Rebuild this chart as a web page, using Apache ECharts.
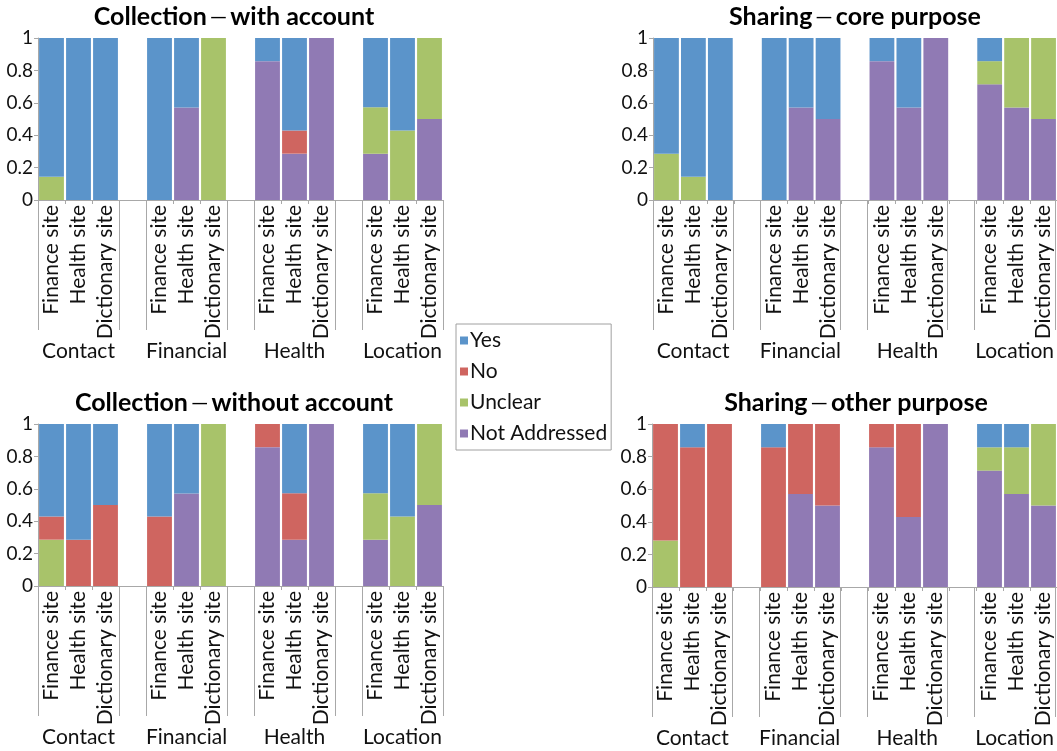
<!DOCTYPE html>
<html><head><meta charset="utf-8">
<script src="https://cdn.jsdelivr.net/npm/echarts@6/dist/echarts.min.js"></script>
<style>html,body{margin:0;padding:0;background:#fff}#c{width:1057px;height:751px}</style>
</head><body><div id="c"></div>
<script>
// ---- categories / labels ----
const groups = ['Contact', 'Financial', 'Health', 'Location'];
const sites = ['Finance site', 'Health site', 'Dictionary site'];
const seriesNames = ['Yes', 'No', 'Unclear', 'Not Addressed'];
const titleMain = ['Collection', 'Sharing', 'Collection', 'Sharing'];
const titleSub = ['with account', 'core purpose', 'without account', 'other purpose'];

// ---- values (order: Contact F,H,D | Financial F,H,D | Health F,H,D | Location F,H,D) ----
// Collection — with account
const cwaYes   = [0.857, 1, 1,   1, 0.429, 0,   0.143, 0.571, 0,   0.429, 0.571, 0];
const cwaNo    = [0, 0, 0,       0, 0, 0,       0, 0.143, 0,       0, 0, 0];
const cwaUncl  = [0.143, 0, 0,   0, 0, 1,       0, 0, 0,           0.286, 0.429, 0.5];
const cwaNA    = [0, 0, 0,       0, 0.571, 0,   0.857, 0.286, 1,   0.286, 0, 0.5];
// Sharing — core purpose
const scpYes   = [0.714, 0.857, 1,  1, 0.429, 0.5,  0.143, 0.429, 0,  0.143, 0, 0];
const scpNo    = [0, 0, 0,          0, 0, 0,        0, 0, 0,          0, 0, 0];
const scpUncl  = [0.286, 0.143, 0,  0, 0, 0,        0, 0, 0,          0.143, 0.429, 0.5];
const scpNA    = [0, 0, 0,          0, 0.571, 0.5,  0.857, 0.571, 1,  0.714, 0.571, 0.5];
// Collection — without account
const cwoYes   = [0.571, 0.714, 0.5,  0.571, 0.429, 0,  0, 0.429, 0,      0.429, 0.571, 0];
const cwoNo    = [0.143, 0.286, 0.5,  0.429, 0, 0,      0.143, 0.286, 0,  0, 0, 0];
const cwoUncl  = [0.286, 0, 0,        0, 0, 1,          0, 0, 0,          0.286, 0.429, 0.5];
const cwoNA    = [0, 0, 0,            0, 0.571, 0,      0.857, 0.286, 1,  0.286, 0, 0.5];
// Sharing — other purpose
const sopYes   = [0, 0.143, 0,      0.143, 0, 0,      0, 0, 0,          0.143, 0.143, 0];
const sopNo    = [0.714, 0.857, 1,  0.857, 0.429, 0.5, 0.143, 0.571, 0, 0, 0, 0];
const sopUncl  = [0.286, 0, 0,      0, 0, 0,          0, 0, 0,          0.143, 0.286, 0.5];
const sopNA    = [0, 0, 0,          0, 0.571, 0.5,    0.857, 0.429, 1,  0.714, 0.571, 0.5];

const chartData = [
  [cwaYes, cwaNo, cwaUncl, cwaNA],
  [scpYes, scpNo, scpUncl, scpNA],
  [cwoYes, cwoNo, cwoUncl, cwoNA],
  [sopYes, sopNo, sopUncl, sopNA]
];

// ---- style / layout ----
const colors = {'Yes': '#5B94CA', 'No': '#CF6560', 'Unclear': '#A8C36A', 'Not Addressed': '#907AB4'};
const grids = [
  {left: 38, top: 38, width: 405, height: 162},
  {left: 653, top: 38, width: 404, height: 162},
  {left: 38, top: 424, width: 405, height: 162},
  {left: 652, top: 424, width: 405, height: 163}
];
const titleCenters = [229, 850, 229, 851];
const FONT = 'Lato, "Open Sans", sans-serif';
const axisGray = '#a8a8a8';

// build categories with an empty slot between groups
const cats = [];
groups.forEach((g, gi) => { sites.forEach(s => cats.push(s)); if (gi < groups.length - 1) cats.push(''); });
function withGaps(arr) {
  const out = [];
  groups.forEach((g, gi) => {
    for (let k = 0; k < sites.length; k++) out.push(arr[gi * sites.length + k]);
    if (gi < groups.length - 1) out.push(null);
  });
  return out;
}
const nSlots = cats.length;
const sepValues = [];
const groupCenters = {};
let pos = 0;
groups.forEach((g, gi) => {
  sepValues.push(pos, pos + sites.length);
  groupCenters[(pos + sites.length / 2).toFixed(1)] = g;
  pos += sites.length + 1;
});
const centerValues = Object.keys(groupCenters).map(Number);

const option = {
  animation: false,
  backgroundColor: '#fff',
  title: [], grid: [], xAxis: [], yAxis: [], series: [],
  legend: {
    data: seriesNames,
    orient: 'vertical',
    left: 456, top: 324,
    icon: 'rect', itemWidth: 8, itemHeight: 8, itemGap: 10,
    padding: [6, 4, 6, 4],
    borderColor: '#a0a0a0', borderWidth: 1,
    textStyle: {fontFamily: FONT, fontSize: 21, color: '#111', padding: [0, 0, 0, -3]}
  }
};

grids.forEach((g, i) => {
  option.title.push({
    text: '{b|' + titleMain[i] + '}{d|—}{b|' + titleSub[i] + '}',
    left: titleCenters[i], top: g.top - 39, textAlign: 'center',
    textStyle: {rich: {
      b: {fontFamily: FONT, fontSize: 25, fontWeight: 'bold', color: '#000'},
      d: {fontFamily: FONT, fontSize: 22, fontWeight: 'normal', color: '#000', padding: [0, 3, 0, 3]}
    }}
  });
  // main grid
  option.grid.push(Object.assign({containLabel: false}, g));
  // overlay grid for group separators and labels
  option.grid.push(Object.assign({containLabel: false}, g));
  const mainIdx = 2 * i, ovIdx = 2 * i + 1;
  option.xAxis.push({
    type: 'category', gridIndex: mainIdx, data: cats,
    axisLine: {show: true, lineStyle: {color: axisGray, width: 1}},
    axisTick: {show: true, interval: 0, length: 4, lineStyle: {color: axisGray}},
    axisLabel: {interval: 0, rotate: 90, margin: 5, fontFamily: FONT, fontSize: 21, color: '#111'},
    splitLine: {show: false}
  });
  option.xAxis.push({
    type: 'value', gridIndex: ovIdx, min: 0, max: nSlots, position: 'bottom',
    axisLine: {show: false},
    axisTick: {show: true, customValues: sepValues, length: 130, lineStyle: {color: axisGray}},
    axisLabel: {show: true, customValues: centerValues, margin: 141,
      formatter: v => groupCenters[Number(v).toFixed(1)] || '',
      fontFamily: FONT, fontSize: 21, color: '#111'},
    splitLine: {show: false}
  });
  option.yAxis.push({
    type: 'value', gridIndex: mainIdx, min: 0, max: 1, interval: 0.2,
    axisLine: {show: true, lineStyle: {color: axisGray}},
    axisTick: {show: true, length: 4, lineStyle: {color: axisGray}},
    axisLabel: {fontFamily: FONT, fontSize: 19, color: '#111', margin: 5},
    splitLine: {show: false}
  });
  option.yAxis.push({type: 'value', gridIndex: ovIdx, min: 0, max: 1, show: false});

  // stacking order from bottom: Not Addressed, Unclear, No, Yes
  const order = [3, 2, 1, 0];
  order.forEach(si => {
    const name = seriesNames[si];
    option.series.push({
      name: name, type: 'bar', stack: 'st' + i,
      xAxisIndex: mainIdx, yAxisIndex: mainIdx,
      barCategoryGap: '8%',
      itemStyle: {color: colors[name]},
      data: withGaps(chartData[i][si])
    });
  });
});

const chart = echarts.init(document.getElementById('c'), null, {renderer: 'canvas'});
chart.setOption(option);
</script>
</body></html>
